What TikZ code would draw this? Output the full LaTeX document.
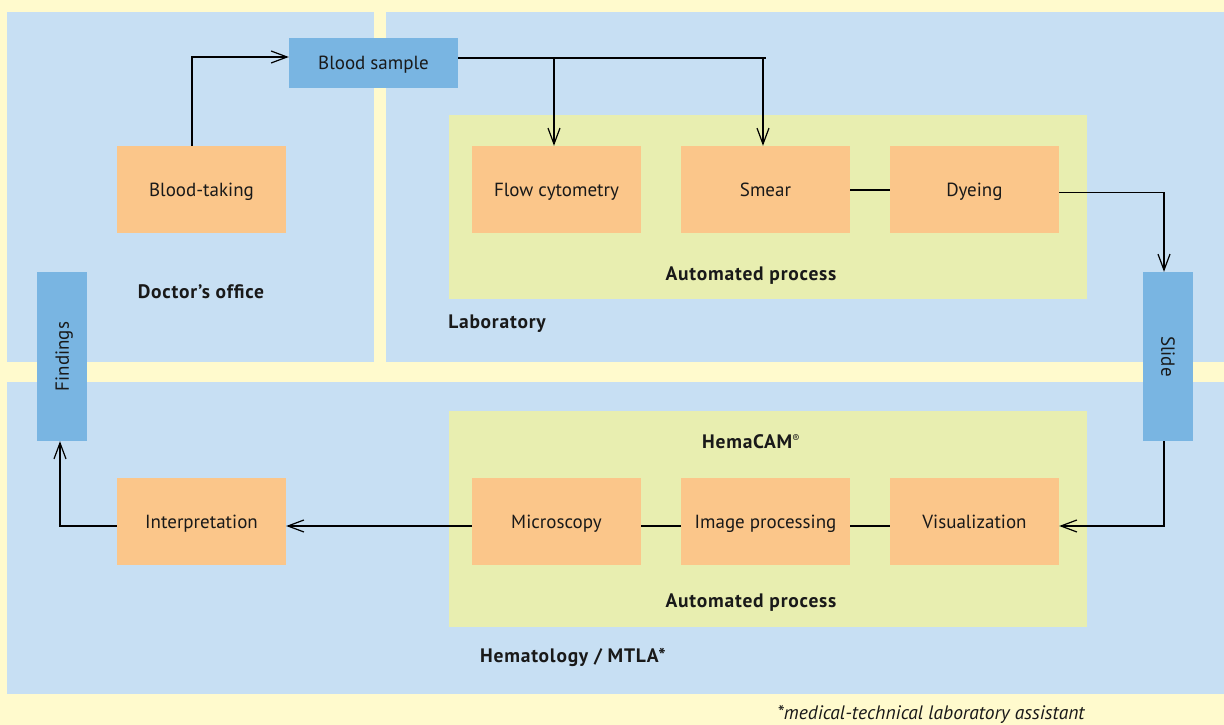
\documentclass[tikz,border=0pt]{standalone}
\usepackage{fontspec}
\setmainfont{PT Sans}
\usetikzlibrary{arrows.meta}
\definecolor{bgyellow}{RGB}{255,250,205}
\definecolor{panelblue}{RGB}{199,223,243}
\definecolor{procgreen}{RGB}{232,238,176}
\definecolor{steporange}{RGB}{251,198,138}
\definecolor{itemblue}{RGB}{121,181,226}
\begin{document}
\begin{tikzpicture}[x=1pt,y=-1pt,
  every node/.style={font=\fontsize{19}{22}\selectfont, text=black!90, text height=13.5pt, text depth=0pt},
  panel/.style={fill=panelblue, draw=none},
  procarea/.style={fill=procgreen, draw=none},
  stepbox/.style={fill=steporange, draw=none, minimum width=169pt, minimum height=87pt, inner sep=0pt},
  itembox/.style={fill=itemblue, draw=none, inner sep=0pt},
  region/.style={font=\fontsize{19.5}{22}\selectfont\bfseries\addfontfeature{LetterSpace=4}},
  link/.style={line width=1.2pt, black},
  conn/.style={link, -{Straight Barb[length=16pt,width=12pt,line width=1.2pt]}}
]
\useasboundingbox (0,0) rectangle (1224,725);
\fill[bgyellow] (0,0) rectangle (1224,725);
% panels
\fill[panel] (7,12) rectangle (374,362);
\fill[panel] (386,12) rectangle (1224,362);
\fill[panel] (7,382) rectangle (1224,694);
% automated process areas
\fill[procarea] (449,115) rectangle (1087,299);
\fill[procarea] (449,411) rectangle (1087,627);
% step boxes
\node[stepbox] (bt) at (201.5,189.5) {Blood-taking};
\node[stepbox] (fc) at (556.5,189.5) {Flow cytometry};
\node[stepbox] (sm) at (765.5,189.5) {Smear};
\node[stepbox] (dy) at (974.5,189.5) {Dyeing};
\node[stepbox] (mi) at (556.5,521.5) {Microscopy};
\node[stepbox] (ip) at (765.5,521.5) {Image processing};
\node[stepbox] (vi) at (974.5,521.5) {Visualization};
\node[stepbox] (in) at (201.5,521.5) {Interpretation};
% blue items
\node[itembox, minimum width=169pt, minimum height=50pt] (bs) at (373.5,63) {Blood sample};
\node[itembox, minimum width=50pt, minimum height=169pt] (fi) at (62,356.5) {};
\node[rotate=90] at (fi.center) {Findings};
\node[itembox, minimum width=50pt, minimum height=169pt] (sl) at (1168,356.5) {};
\node[rotate=-90] at (sl.center) {Slide};
% labels
\node[region] (lbdoc) at (201,292) {Doctor’s office};
\node[region] (lblab) at (497,322) {Laboratory};
\node[region] (lbap1) at (751,274) {Automated process};
\node[region] (lbhc) at (751,442) {HemaCAM\raisebox{6pt}{\fontsize{11}{11}\selectfont\mdseries ®}};
\node[region] (lbap2) at (751,601) {Automated process};
\node[region] (lbhem) at (573,656) {Hematology / MTLA*};
\node[font=\fontsize{19.5}{22}\selectfont\itshape] (note) at (931,713) {*medical-technical laboratory assistant};
% connectors
\coordinate (split) at (766,58);
\draw[conn] ([xshift=-9.5pt]bt.north) |- ([yshift=6pt]bs.west);
\draw[link] ([yshift=5pt]bs.east) -- (split);
\draw[conn] ([xshift=-2.5pt]fc.north |- split) -- ([xshift=-2.5pt]fc.north);
\draw[conn] ([xshift=-2.5pt]sm.north |- split) -- ([xshift=-2.5pt]sm.north);
\draw[link] ([yshift=-0.5pt]sm.east) -- ([yshift=-0.5pt]dy.west);
\draw[conn] ([yshift=-3pt]dy.east) -| ([xshift=-4pt]sl.north);
\draw[conn] ([xshift=-4pt]sl.south) |- ([yshift=-4.5pt]vi.east);
\draw[link] ([yshift=-4.5pt]vi.west) -- ([yshift=-4.5pt]ip.east);
\draw[link] ([yshift=-4.5pt]ip.west) -- ([yshift=-4.5pt]mi.east);
\draw[conn] ([yshift=-4.5pt]mi.west) -- ([yshift=-4.5pt]in.east);
\draw[conn] ([yshift=-4.5pt]in.west) -| ([xshift=-2pt]fi.south);
\end{tikzpicture}
\end{document}
